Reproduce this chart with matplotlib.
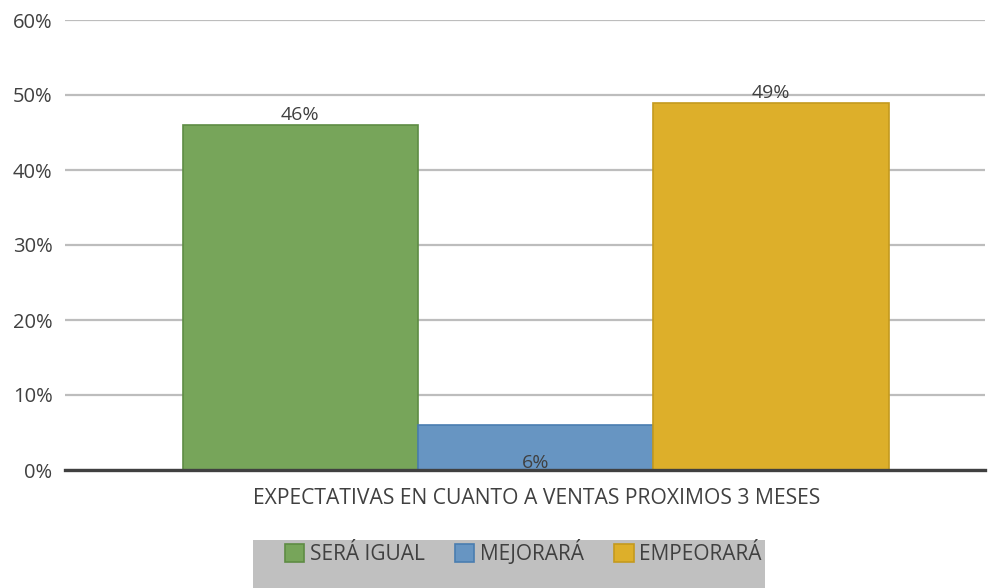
import matplotlib
matplotlib.use("Agg")
import matplotlib.pyplot as plt
from matplotlib.patches import Rectangle, Patch

categories = ["SERÁ IGUAL", "MEJORARÁ", "EMPEORARÁ"]
values = [46, 6, 49]
labels = ["46%", "6%", "49%"]
yticks = [0, 10, 20, 30, 40, 50, 60]
xlabel = "EXPECTATIVAS EN CUANTO A VENTAS PROXIMOS 3 MESES"
colors = ["#77A55A", "#6795C2", "#DDAF2A"]
edges = ["#5E8C44", "#4A7DB0", "#C49A1E"]

plt.rcParams['font.family'] = ['Open Sans', 'DejaVu Sans']
FS = 14.5
TXT = "#404040"

fig = plt.figure(figsize=(9.98, 5.88), dpi=100)
ax = fig.add_axes([65/998, 1-470/588, (985-65)/998, 450/588])

pos = [-1, 0, 1]
ax.bar(pos, values, width=1.0, color=colors, edgecolor=edges, linewidth=1.2, zorder=3)
ax.set_xlim(-2.0, 1.91)
ax.set_ylim(0, 60)
ax.set_yticks(yticks)
ax.set_yticklabels([f"{t}%" for t in yticks], fontsize=FS, color=TXT)
ax.tick_params(axis='y', length=0, pad=9)
ax.tick_params(axis='x', length=0)
ax.set_xticks([])
ax.yaxis.grid(True, color="#BDBDBD", linewidth=1.6, zorder=0)
for s in ["top", "right", "left"]:
    ax.spines[s].set_visible(False)
ax.spines["bottom"].set_color("#404040")
ax.spines["bottom"].set_linewidth(2.4)
ax.spines["bottom"].set_zorder(4)

label_y = [values[0] + 0.1, -0.3, values[2] + 0.1]
for p, v, ly, t in zip(pos, values, label_y, labels):
    ax.text(p, ly, t, ha='center', va='bottom', fontsize=FS - 0.5, color=TXT, zorder=5)

fig.text(537/998, 1-498/588, xlabel, ha='center', va='center', fontsize=15.2, color=TXT)

# legend background
fig.patches.append(Rectangle((253/998, 0), (765-253)/998, (588-540)/588,
                             transform=fig.transFigure, facecolor="#C0C0C0",
                             edgecolor="none", zorder=0))
handles = [Patch(facecolor=c, edgecolor=e, linewidth=1.2) for c, e in zip(colors, edges)]
leg = fig.legend(handles, categories, loc='center', bbox_to_anchor=(523/998, 1-553/588),
                 ncol=3, frameon=False, fontsize=FS + 0.5, handlelength=0.95, handleheight=0.95,
                 handletextpad=0.25, columnspacing=1.45, labelcolor=TXT, borderpad=0)

fig.savefig("out.png", dpi=100)
